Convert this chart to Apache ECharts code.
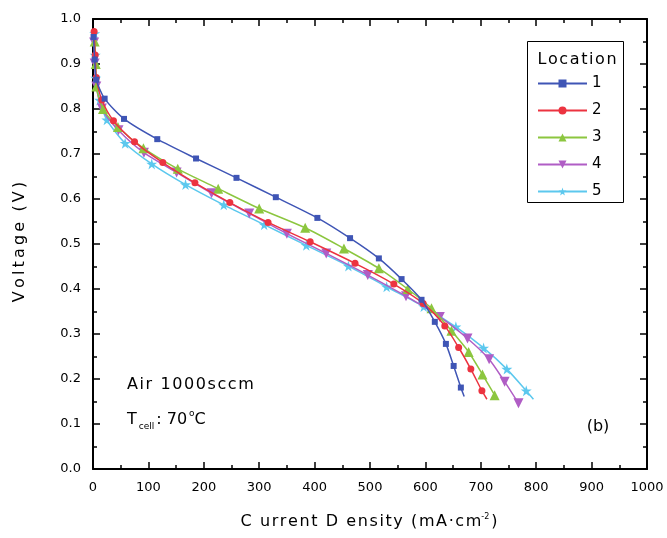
<!DOCTYPE html>
<html>
<head>
<meta charset="utf-8">
<script src="https://cdn.jsdelivr.net/npm/echarts@6/dist/echarts.min.js"></script>
<style>html,body{margin:0;padding:0;background:#fff}#c{width:667px;height:538px}</style>
</head>
<body>
<div id="c"></div>
<script>
// Current density (mA/cm2) and voltage (V) per location
const loc1I = [1, 3, 6, 21, 56, 116, 186, 259, 330, 405, 464, 516, 557, 593, 617, 637, 651, 664, 670];
const loc1V = [0.96, 0.91, 0.865, 0.823, 0.778, 0.733, 0.690, 0.647, 0.604, 0.558, 0.513, 0.468, 0.422, 0.376, 0.327, 0.278, 0.229, 0.181, 0.161];
const loc2I = [2, 4, 6, 16, 37, 75, 126, 184, 247, 316, 392, 473, 543, 596, 635, 660, 682, 702, 711];
const loc2V = [0.972, 0.92, 0.87, 0.82, 0.774, 0.727, 0.681, 0.636, 0.592, 0.548, 0.505, 0.457, 0.411, 0.368, 0.318, 0.270, 0.222, 0.174, 0.155];
const loc3I = [3, 5, 6, 18, 45, 91, 153, 226, 300, 383, 453, 516, 568, 611, 647, 678, 703, 725, 729];
const loc3V = [0.95, 0.90, 0.85, 0.80, 0.76, 0.713, 0.667, 0.623, 0.579, 0.536, 0.490, 0.446, 0.400, 0.357, 0.307, 0.260, 0.210, 0.164, 0.155];
const loc4I = [2, 3, 6, 16, 46, 92, 151, 214, 282, 350, 421, 496, 565, 626, 676, 715, 743, 768];
const loc4V = [0.948, 0.901, 0.85, 0.801, 0.753, 0.703, 0.659, 0.613, 0.568, 0.523, 0.479, 0.431, 0.384, 0.338, 0.290, 0.244, 0.194, 0.146];
const loc5I = [3, 4, 5, 12, 25, 58, 106, 167, 236, 309, 385, 461, 530, 597, 655, 705, 747, 782, 795];
const loc5V = [0.968, 0.92, 0.869, 0.82, 0.776, 0.724, 0.678, 0.632, 0.587, 0.543, 0.497, 0.451, 0.405, 0.361, 0.316, 0.269, 0.222, 0.174, 0.155];
// last point of these curves is the line end, not a measured marker
const lineEndOnly = [true, true, true, false, true];

const names = ['1', '2', '3', '4', '5'];
const colors = ['#3F55B5', '#EC3340', '#8CC63F', '#B05DC5', '#5CC8EE'];
const symbols = ['rect', 'circle', 'triangle', 'path://M0,0 L10,0 L5,9 Z', 'path://M50,0 L61,35 L98,35 L68,57 L79,91 L50,70 L21,91 L32,57 L2,35 L39,35 Z'];
const sizes = [6, 7, 10, 10, 11];
const xs = [loc1I, loc2I, loc3I, loc4I, loc5I];
const ys = [loc1V, loc2V, loc3V, loc4V, loc5V];

const FONT = 'DejaVu Sans';
const hair = s => s.split('').join('\u200A');
const thin = s => s.split('').join('\u2009');

const series = names.map((n, k) => ({
  name: n,
  type: 'line',
  smooth: 0.25,
  symbol: symbols[k],
  symbolSize: sizes[k],
  showAllSymbol: true,
  color: colors[k],
  lineStyle: { width: 1.5, color: colors[k] },
  itemStyle: { color: colors[k] },
  z: 10 - k,
  data: xs[k].map((x, i) => {
    if (lineEndOnly[k] && i === xs[k].length - 1) return { value: [x, ys[k][i]], symbol: 'none' };
    return [x, ys[k][i]];
  })
}));

const chart = echarts.init(document.getElementById('c'), null, { renderer: 'canvas' });
const axisLine = { show: true, onZero: false, lineStyle: { color: '#000', width: 2 } };
const tick = { show: true, inside: true, length: 7, lineStyle: { color: '#000', width: 1.5 } };
const minor = { show: true, splitNumber: 2, length: 4, lineStyle: { color: '#000', width: 1.5 } };
chart.setOption({
  animation: false,
  grid: { left: 93, right: 20, top: 19, bottom: 69, containLabel: false },
  xAxis: [
    { type: 'value', position: 'bottom', min: 0, max: 1000, interval: 100,
      axisLine, axisTick: tick, minorTick: minor, splitLine: { show: false },
      axisLabel: { color: '#000', fontFamily: FONT, fontSize: 13, margin: 12, formatter: v => String(v) } },
    { type: 'value', position: 'top', min: 0, max: 1000, interval: 100,
      axisLine, axisTick: tick, minorTick: minor, splitLine: { show: false },
      axisLabel: { show: false } }
  ],
  yAxis: [
    { type: 'value', position: 'left', min: 0, max: 1, interval: 0.1,
      axisLine, axisTick: tick, minorTick: minor, splitLine: { show: false },
      axisLabel: { color: '#000', fontFamily: FONT, fontSize: 13, margin: 12, formatter: v => v.toFixed(1) } },
    { type: 'value', position: 'right', min: 0, max: 1, interval: 0.1,
      axisLine, axisTick: tick, minorTick: minor, splitLine: { show: false },
      axisLabel: { show: false } }
  ],
  legend: {
    data: names,
    orient: 'vertical',
    left: 537, top: 76,
    itemWidth: 49, itemHeight: 10, itemGap: 12,
    textStyle: { fontFamily: FONT, fontSize: 15, color: '#000', lineHeight: 15 },
    padding: 0
  },
  graphic: [
    { type: 'rect', shape: { x: 527.5, y: 41.5, width: 96, height: 161 },
      style: { fill: 'none', stroke: '#000', lineWidth: 1 }, z: 100 },
    { type: 'text', x: 577, y: 60, z: 100,
      style: { text: hair('Location'), font: '16px "DejaVu Sans"', fill: '#000', align: 'center', verticalAlign: 'middle' } },
    { type: 'text', x: 20, y: 242, rotation: Math.PI / 2, z: 100,
      style: { text: thin('Voltage') + '  ' + thin('(V)'), font: '16px "DejaVu Sans"', fill: '#000', align: 'center', verticalAlign: 'middle' } },
    { type: 'text', x: 369, y: 522, z: 100,
      style: { text: '{a|' + hair('C urrent D ensity (mA·cm') + '}{s|-2}{a|)}', align: 'center', verticalAlign: 'middle',
        rich: { a: { fontFamily: FONT, fontSize: 16, color: '#000' },
                s: { fontFamily: FONT, fontSize: 8, color: '#000', verticalAlign: 'top', padding: [0, 2, 10, 0] } } } },
    { type: 'text', x: 127, y: 385, z: 100,
      style: { text: hair('Air 1000sccm'), font: '16px "DejaVu Sans"', fill: '#000', align: 'left', verticalAlign: 'middle' } },
    { type: 'text', x: 127, y: 420, z: 100,
      style: { text: '{a|T}{b|cell}{a|: 70}{c|o}{a|C}', align: 'left', verticalAlign: 'middle',
        rich: { a: { fontFamily: FONT, fontSize: 16, color: '#000' },
                b: { fontFamily: FONT, fontSize: 9, color: '#000', padding: [14, 2, 0, 2] },
                c: { fontFamily: FONT, fontSize: 9, color: '#000', padding: [0, 0, 12, 2] } } } },
    { type: 'text', x: 598, y: 427, z: 100,
      style: { text: '(b)', font: '16px "DejaVu Sans"', fill: '#000', align: 'center', verticalAlign: 'middle' } }
  ],
  series
});
</script>
</body>
</html>
